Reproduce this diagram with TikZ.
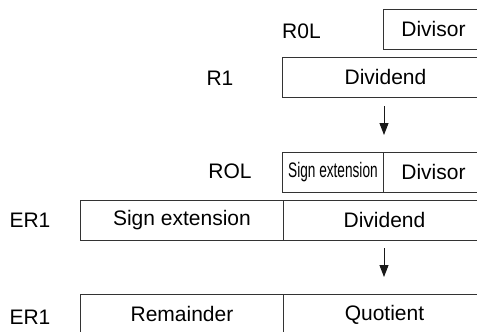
\documentclass[tikz,border=0pt]{standalone}
\usepackage{fontspec}
\setmainfont{Liberation Sans}
\usepackage{graphicx}
\usetikzlibrary{arrows.meta}
\begin{document}
\begin{tikzpicture}[x=1pt,y=-1pt,
  cell/.style={draw=black!80, line width=0.9pt, rectangle, minimum height=40pt, inner sep=0pt, anchor=north west, font=\fontsize{21}{25}\selectfont},
  lbl/.style={font=\fontsize{21}{25}\selectfont, inner sep=0pt},
  arr/.style={draw=black!90, line width=0.9pt, -{Triangle[width=9pt,length=12pt]}}]
\useasboundingbox (0,0) rectangle (477,332);
\clip (0,0) rectangle (477,332);
% row 1
\node[lbl] (r0l) at (301.5,31) {R0L};
\node[cell, minimum width=100pt] (div1) at (383,9) {Divisor};
% row 2
\node[lbl] (r1) at (220,78) {R1};
\node[cell, minimum width=206pt] (dvd1) at (282,57) {Dividend};
% arrow 1
\coordinate (a1s) at (384,106);
\coordinate (a1e) at (384,135);
\draw[arr] (a1s) -- (a1e);
% row 3
\node[lbl] (rol) at (230,171) {ROL};
\node[cell, minimum width=101pt] (se1) at (282,152) {\scalebox{0.65}[1]{Sign extension}};
\node[cell, minimum width=100pt] (div2) at (383,152) {Divisor};
% row 4
\node[lbl] (er1a) at (30,220) {ER1};
\node[cell, minimum width=203pt] (se2) at (80,200) {Sign extension};
\node[cell, minimum width=202pt] (dvd2) at (283,200) {Dividend};
% arrow 2
\coordinate (a2s) at (384,248);
\coordinate (a2e) at (384,277);
\draw[arr] (a2s) -- (a2e);
% row 5
\node[lbl] (er1b) at (30,317) {ER1};
\node[cell, minimum width=203pt] (rem) at (80,294) {Remainder};
\node[cell, minimum width=202pt] (quo) at (283,294) {Quotient};
\end{tikzpicture}
\end{document}
